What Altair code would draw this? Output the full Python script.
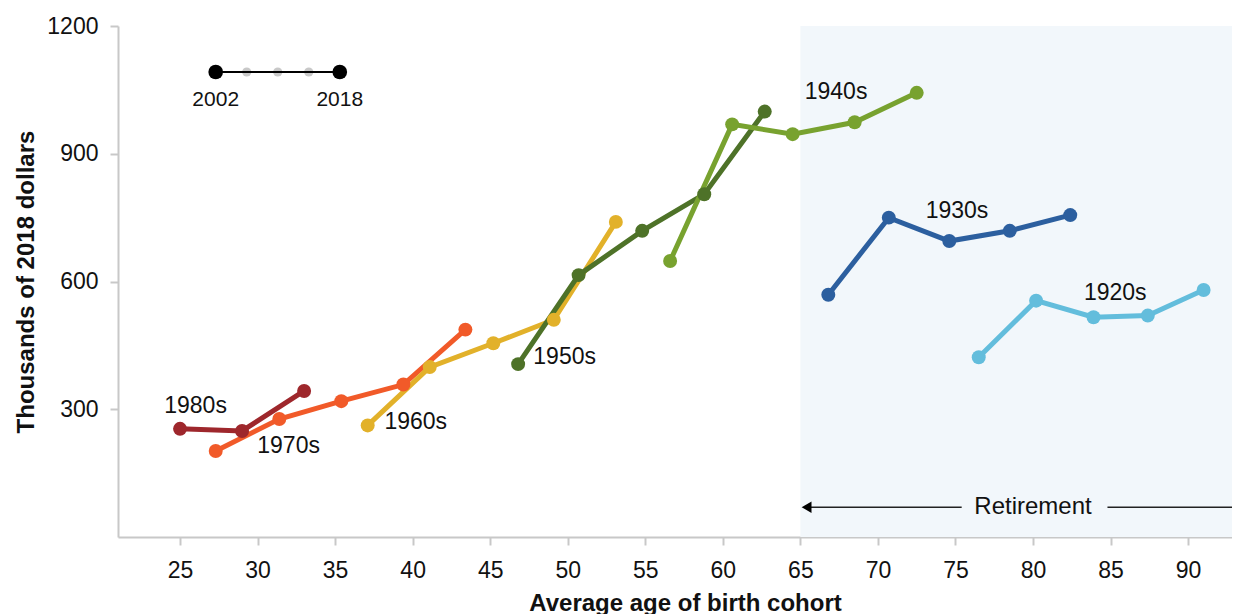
import altair as alt
import pandas as pd

# ---------------- data ----------------
cohorts = ["1980s", "1970s", "1960s", "1950s", "1940s", "1930s", "1920s"]
cohort_colors = ["#9e272c", "#f15a29", "#e2b12a", "#4e7228", "#78a22f", "#2c5f9f", "#63bddc"]

ages_1980s = [25.0, 29.0, 33.0]
wealth_1980s = [254, 249, 343]
ages_1970s = [27.3, 31.4, 35.4, 39.4, 43.4]
wealth_1970s = [202, 277, 319, 358, 487]
ages_1960s = [37.1, 41.1, 45.2, 49.1, 53.1]
wealth_1960s = [262, 399, 455, 510, 740]
ages_1950s = [46.8, 50.7, 54.8, 58.8, 62.7]
wealth_1950s = [406, 615, 719, 805, 999]
ages_1940s = [56.6, 60.6, 64.5, 68.5, 72.5]
wealth_1940s = [648, 969, 946, 974, 1043]
ages_1930s = [66.8, 70.7, 74.6, 78.5, 82.4]
wealth_1930s = [569, 750, 695, 719, 756]
ages_1920s = [76.5, 80.2, 83.9, 87.4, 91.0]
wealth_1920s = [422, 555, 516, 520, 580]

label_age = [26.0, 32.0, 40.2, 49.8, 67.3, 75.1, 85.3]
label_wealth = [308, 214, 270, 423, 1045, 766, 573]

legend_ages = [27.3, 29.3, 31.3, 33.3, 35.3]
legend_key_wealth = 1092
legend_labels = ["2002", "2018"]
legend_label_wealth = 1026

retire_age = 65
x_min, x_max = 21, 92.83
y_min, y_max = 0, 1200
retire_text = "Retirement"
retire_text_age = 80.0
retire_wealth = 70
retire_line_left = [65.4, 75.4]
retire_line_right = [84.8, 92.83]

x_ticks = list(range(25, 95, 5))
y_ticks = [300, 600, 900, 1200]

FONT = "Liberation Sans"

# ---------------- tables ----------------
series = {
    "1980s": (ages_1980s, wealth_1980s),
    "1970s": (ages_1970s, wealth_1970s),
    "1960s": (ages_1960s, wealth_1960s),
    "1950s": (ages_1950s, wealth_1950s),
    "1940s": (ages_1940s, wealth_1940s),
    "1930s": (ages_1930s, wealth_1930s),
    "1920s": (ages_1920s, wealth_1920s),
}
rows = []
for c, (a, w) in series.items():
    for i, (x, y) in enumerate(zip(a, w)):
        rows.append({"cohort": c, "age": x, "wealth": y, "wave": i})
df = pd.DataFrame(rows)

df_labels = pd.DataFrame({"cohort": cohorts, "age": label_age, "wealth": label_wealth})
df_shade = pd.DataFrame({"age": [retire_age], "age2": [x_max], "wealth": [y_min], "wealth2": [y_max]})
df_leg = pd.DataFrame({"age": legend_ages, "wealth": [legend_key_wealth] * len(legend_ages)})
df_leg_ends = df_leg.iloc[[0, -1]].copy()
df_leg_mid = df_leg.iloc[1:-1].copy()
df_leg_lab = pd.DataFrame({"age": [legend_ages[0], legend_ages[-1]],
                           "wealth": [legend_label_wealth] * 2, "t": legend_labels})
df_ret_lines = pd.DataFrame({"age": [retire_line_left[0], retire_line_right[0]],
                             "age2": [retire_line_left[1], retire_line_right[1]],
                             "wealth": [retire_wealth, retire_wealth]})
df_ret_head = pd.DataFrame({"age": [retire_line_left[0]], "wealth": [retire_wealth]})
df_ret_text = pd.DataFrame({"age": [retire_text_age], "wealth": [retire_wealth], "t": [retire_text]})

xscale = alt.Scale(domain=[x_min, x_max], nice=False, zero=False)
yscale = alt.Scale(domain=[y_min, y_max], nice=False)
cscale = alt.Scale(domain=cohorts, range=cohort_colors)

x_axis = alt.Axis(values=x_ticks, title="Average age of birth cohort", grid=False,
                  titleX=567, titleY=73, titleBaseline="alphabetic", titleAlign="center",
                  labelPadding=14)
y_axis = alt.Axis(values=y_ticks, title="Thousands of 2018 dollars", grid=False, format="d",
                  titleX=-85, titleY=255.5, titleBaseline="alphabetic", titleAlign="center",
                  titleAngle=270, labelPadding=12)

X = alt.X("age:Q", scale=xscale, axis=x_axis)
Y = alt.Y("wealth:Q", scale=yscale, axis=y_axis)
Xp = alt.X("age:Q", scale=xscale)
Yp = alt.Y("wealth:Q", scale=yscale)

shade = alt.Chart(df_shade).mark_rect(color="#f2f7fb").encode(
    x=X, x2="age2:Q", y=Y, y2="wealth2:Q")

lines = alt.Chart(df).mark_line(strokeWidth=5).encode(
    x=Xp, y=Yp, color=alt.Color("cohort:N", scale=cscale, legend=None),
    order="wave:Q")
points = alt.Chart(df).mark_circle(size=195, opacity=1).encode(
    x=Xp, y=Yp, color=alt.Color("cohort:N", scale=cscale, legend=None))
labels = alt.Chart(df_labels).mark_text(font=FONT, fontSize=23, color="#111111",
                                        align="center", baseline="middle").encode(
    x=Xp, y=Yp, text="cohort:N")

leg_mid = alt.Chart(df_leg_mid).mark_circle(size=85, color="#c8c8c8", opacity=1).encode(x=Xp, y=Yp)
leg_line = alt.Chart(df_leg_ends).mark_line(color="#000000", strokeWidth=2).encode(x=Xp, y=Yp)
leg_ends = alt.Chart(df_leg_ends).mark_circle(size=215, color="#000000", opacity=1).encode(x=Xp, y=Yp)
leg_lab = alt.Chart(df_leg_lab).mark_text(font=FONT, fontSize=21, color="#111111",
                                          align="center", baseline="middle").encode(
    x=Xp, y=Yp, text="t:N")

ret_lines = alt.Chart(df_ret_lines).mark_rule(color="#222222", strokeWidth=1.5).encode(
    x=Xp, x2="age2:Q", y=Yp)
ret_head = alt.Chart(df_ret_head).mark_point(shape="triangle-left", filled=True, size=130,
                                             color="#000000", opacity=1).encode(x=Xp, y=Yp)
ret_text = alt.Chart(df_ret_text).mark_text(font=FONT, fontSize=24, color="#111111",
                                            align="center", baseline="middle").encode(
    x=Xp, y=Yp, text="t:N")

chart = alt.layer(
    shade, ret_lines, ret_head, ret_text, lines, points, labels,
    leg_mid, leg_line, leg_ends, leg_lab
).properties(
    width=1114, height=511,
    padding={"left": 110, "top": 18, "right": 0, "bottom": 80},
    autosize=alt.AutoSizeParams(type="none"),
).configure_view(strokeWidth=0).configure_axis(
    domainColor="#c8c8c8", domainWidth=2, tickColor="#c8c8c8", tickWidth=2, tickSize=8,
    labelFont=FONT, labelFontSize=23, labelColor="#111111",
    titleFont=FONT, titleFontSize=24, titleFontWeight="bold", titleColor="#111111",
)

chart.save("out.html", embed_options={"renderer": "svg", "actions": False})
